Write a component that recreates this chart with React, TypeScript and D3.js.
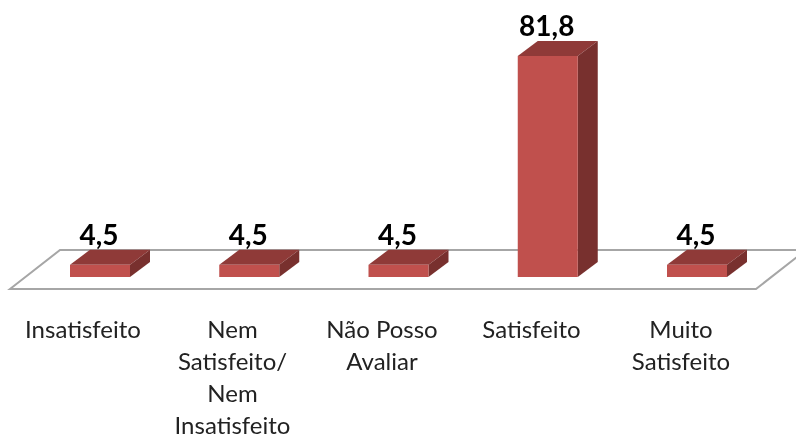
import React from "react";
import * as d3 from "d3";

const categories = ["Insatisfeito", "Nem Satisfeito/ Nem Insatisfeito", "Não Posso Avaliar", "Satisfeito", "Muito Satisfeito"];
const categoryLines = [["Insatisfeito"], ["Nem", "Satisfeito/", "Nem", "Insatisfeito"], ["Não Posso", "Avaliar"], ["Satisfeito"], ["Muito", "Satisfeito"]];
const values = [4.5, 4.5, 4.5, 81.8, 4.5];
const valueLabels = ["4,5", "4,5", "4,5", "81,8", "4,5"];

const W = 796, H = 439;
const barW = 60, dx = 20, dy = 15;
const baseY = 277;
const xCenter = d3.scalePoint<string>().domain(categories).range([100, 697]);
const xLabel = d3.scalePoint<string>().domain(categories).range([83, 681]);
const y = d3.scaleLinear().domain([0, 81.8]).range([baseY, 56]);

const poly = (pts: [number, number][]) => d3.line()(pts)! + "Z";
const font = "Lato, Carlito, 'Open Sans', sans-serif";

export default function App() {
  return (
    <svg width={W} height={H} viewBox={`0 0 ${W} ${H}`} style={{ position: "absolute", left: 0, top: 0, background: "#fff", filter: "blur(0.5px)" }}>
      <path d={poly([[10, 289], [60, 250], [806, 250], [756, 289]])} fill="#fff" stroke="#a6a6a6" strokeWidth={2} />
      {categories.map((c, i) => {
        const left = xCenter(c)! - barW / 2;
        const right = left + barW;
        const top = y(values[i]);
        return (
          <g key={c}>
            <path d={poly([[left, top], [right, top], [right + dx, top - dy], [left + dx, top - dy]])} fill="#8f3a38" />
            <path d={poly([[right, top], [right + dx, top - dy], [right + dx, baseY - dy], [right, baseY]])} fill="#78302e" />
            <rect x={left} y={top} width={barW} height={baseY - top} fill="#c0504d" />
            <text x={xCenter(c)! - 1} y={top - 20} textAnchor="middle" fontFamily={font} fontWeight={700} fontSize={28} fill="#000">{valueLabels[i]}</text>
            <text textAnchor="middle" fontFamily={font} fontSize={24} fill="#222">
              {categoryLines[i].map((line, j) => (
                <tspan key={j} x={xLabel(c)!} y={338 + j * 32}>{line}</tspan>
              ))}
            </text>
          </g>
        );
      })}
    </svg>
  );
}
